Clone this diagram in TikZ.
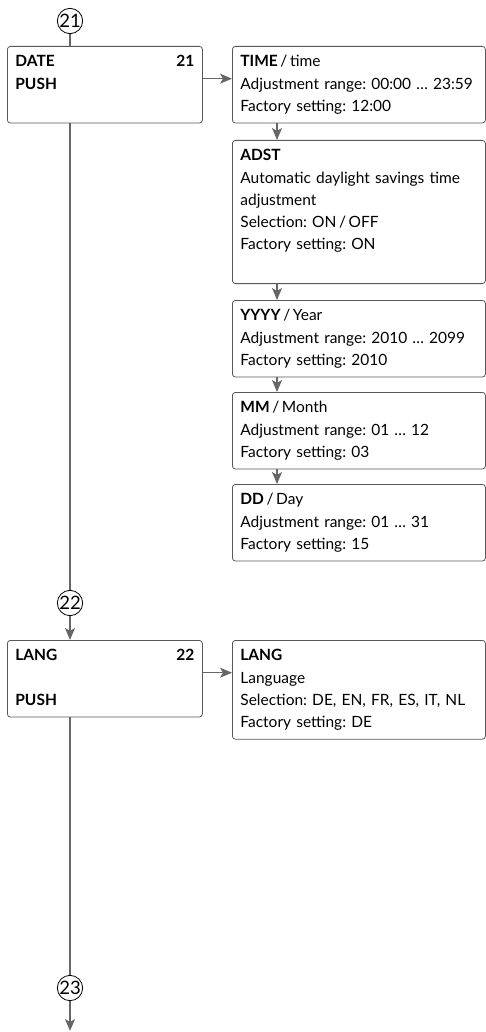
\documentclass[tikz,border=0pt]{standalone}
\usepackage{fontspec}
\setmainfont{Lato}
\usetikzlibrary{arrows.meta}
\frenchspacing
\begin{document}
\begin{tikzpicture}[
    x=1pt, y=-1pt,
    box/.style={draw=black!65, line width=0.8pt, rounded corners=3pt,
                anchor=north west, align=left, inner xsep=8pt, inner ysep=5pt,
                font=\fontsize{15.5}{22.2}\selectfont,
                execute at begin node=\strut, execute at end node=\strut},
    menu/.style={box, text width=179pt},
    item/.style={box, text width=237pt},
    num/.style={draw, circle, line width=0.8pt, minimum size=22pt, inner sep=0pt,
                font=\fontsize{18.5}{20}\selectfont},
    flow/.style={draw=black!60, line width=1.5pt,
                 -{Stealth[length=12pt, width=10pt, inset=3pt]}},
    link/.style={draw=black!60, line width=1.5pt}
]
\useasboundingbox (0,0) rectangle (486,1032);

\node[num] (c21) at (70,21) {21};
\node[menu] (date) at (7,46) {\textbf{DATE}\hfill\textbf{21}\\\textbf{PUSH}\\~};

\node[item] (time) at (232,46)
    {\textbf{TIME}\,/\,time\\Adjustment range: 00:00 … 23:59\\Factory setting: 12:00};
\node[item] (adst) at (232,140)
    {\textbf{ADST}\\Automatic daylight savings time\\adjustment\\Selection: ON\,/\,OFF\\Factory setting: ON\\~};
\node[item] (year) at (232,300)
    {\textbf{YYYY}\,/\,Year\\Adjustment range: 2010 … 2099\\Factory setting: 2010};
\node[item] (month) at (232,392)
    {\textbf{MM}\,/\,Month\\Adjustment range: 01 … 12\\Factory setting: 03};
\node[item] (day) at (232,484)
    {\textbf{DD}\,/\,Day\\Adjustment range: 01 … 31\\Factory setting: 15};

\node[num] (c22) at (70,603) {22};
\node[menu] (lang) at (7,640) {\textbf{LANG}\hfill\textbf{22}\\~\\\textbf{PUSH}};
\node[item] (langset) at (232,640)
    {\textbf{LANG}\\Language\\Selection: DE, EN, FR, ES, IT, NL\\Factory setting: DE};

\node[num] (c23) at (70,988) {23};
\coordinate (out) at (70,1031);

\draw[link] (c21) -- (c21 |- date.north);
\draw[flow] ([yshift=6pt]date.east) -- ([yshift=6pt]date.east -| time.west);
\draw[flow] ([xshift=45pt]time.south west) -- ([xshift=45pt]adst.north west);
\draw[flow] ([xshift=45pt]adst.south west) -- ([xshift=45pt]year.north west);
\draw[flow] ([xshift=45pt]year.south west) -- ([xshift=45pt]month.north west);
\draw[flow] ([xshift=45pt]month.south west) -- ([xshift=45pt]day.north west);
\draw[link] (c22 |- date.south) -- (c22);
\draw[flow] (c22) -- (c22 |- lang.north);
\draw[flow] ([yshift=6pt]lang.east) -- ([yshift=6pt]lang.east -| langset.west);
\draw[link] (c23 |- lang.south) -- (c23);
\draw[flow] (c23) -- (out);

\end{tikzpicture}
\end{document}
